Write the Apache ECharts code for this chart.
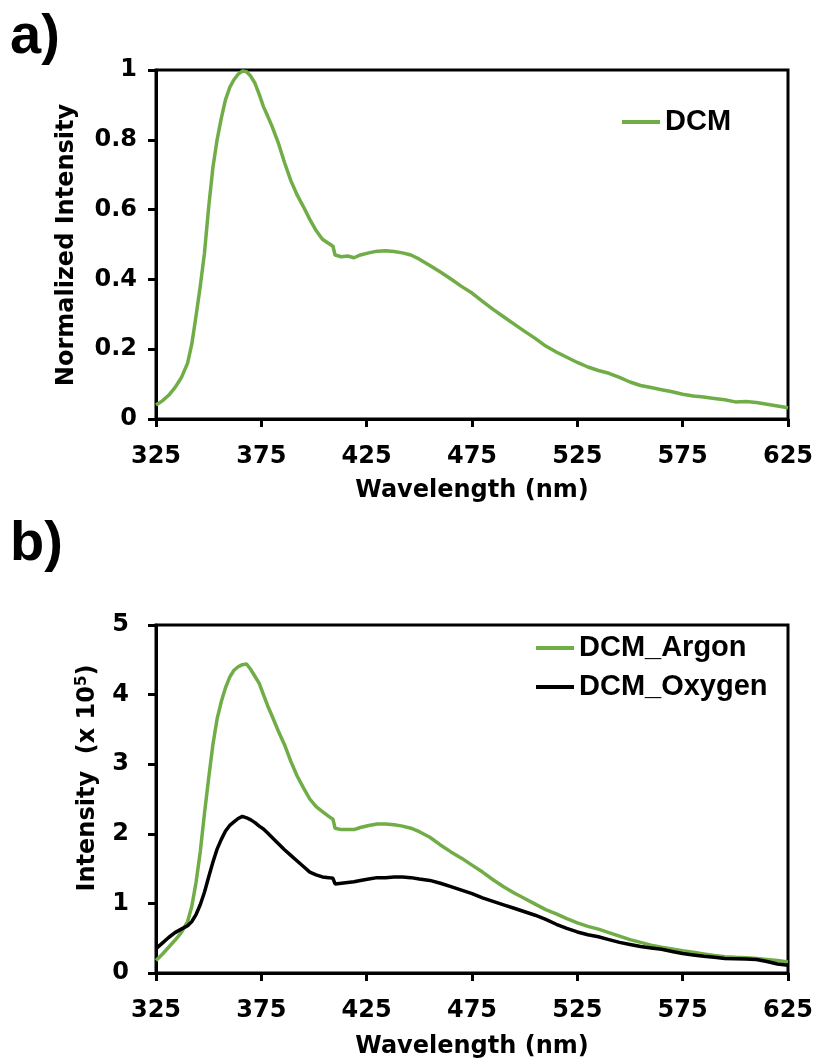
<!DOCTYPE html>
<html>
<head>
<meta charset="utf-8">
<script src="https://cdn.jsdelivr.net/npm/echarts@6/dist/echarts.min.js"></script>
<style>
  html, body { margin: 0; padding: 0; background: #fff; }
  #main { width: 817px; height: 1063px; }
</style>
</head>
<body>
<div id="main"></div>
<script>
// wavelength grid (nm), shared by both panels
var wl = [325, 328, 331, 334, 337, 340,
  342, 344, 346, 348, 350, 352, 354, 356, 358, 360, 362, 364, 366, 368, 370, 372, 374, 376, 378, 380,
  383, 386, 389, 392, 395, 398, 401, 404, 407, 409, 410, 413, 416, 419, 422,
  426, 430, 434, 438, 442, 446,
  450, 455, 460, 465, 470, 475, 480, 485, 490, 495, 500, 505, 510, 515, 520, 525, 530, 535, 540,
  545, 550, 555, 560, 565, 570, 575, 580, 585, 590, 595, 600, 605, 610, 615, 620, 625];

// panel a) normalized intensity
var dcm = [0.040, 0.052, 0.068, 0.090, 0.118, 0.160,
  0.215, 0.295, 0.380, 0.475, 0.607, 0.720, 0.800, 0.862, 0.915, 0.950, 0.972, 0.988, 0.997, 0.995, 0.982, 0.962, 0.930, 0.895, 0.868, 0.840,
  0.792, 0.735, 0.683, 0.642, 0.608, 0.572, 0.540, 0.515, 0.503, 0.495, 0.470, 0.465, 0.467, 0.462, 0.470,
  0.476, 0.481, 0.482, 0.480, 0.476, 0.470,
  0.458, 0.440, 0.421, 0.401, 0.380, 0.361, 0.337, 0.314, 0.293, 0.272, 0.251, 0.231, 0.209, 0.192, 0.177, 0.162, 0.149, 0.139, 0.131,
  0.119, 0.106, 0.096, 0.090, 0.084, 0.078, 0.071, 0.066, 0.063, 0.059, 0.055, 0.049, 0.050, 0.047, 0.042, 0.037, 0.032];

// panel b) intensity (x 10^5)
var argon = [0.18, 0.27, 0.37, 0.47, 0.58, 0.74,
  0.96, 1.30, 1.74, 2.29, 2.80, 3.28, 3.65, 3.90, 4.10, 4.25, 4.35, 4.40, 4.43, 4.44, 4.36, 4.26, 4.16, 4.00, 3.84, 3.70,
  3.48, 3.28, 3.04, 2.83, 2.66, 2.50, 2.39, 2.32, 2.25, 2.21, 2.08, 2.06, 2.06, 2.06, 2.09,
  2.12, 2.14, 2.14, 2.13, 2.11, 2.08,
  2.03, 1.95, 1.84, 1.74, 1.65, 1.55, 1.45, 1.34, 1.24, 1.15, 1.07, 0.99, 0.91, 0.85, 0.78, 0.72, 0.67, 0.63, 0.58,
  0.53, 0.48, 0.44, 0.40, 0.37, 0.345, 0.32, 0.30, 0.275, 0.25, 0.235, 0.225, 0.22, 0.21, 0.195, 0.18, 0.16];

var oxygen = [0.35, 0.43, 0.51, 0.58, 0.63, 0.68,
  0.74, 0.84, 0.98, 1.16, 1.38, 1.59, 1.78, 1.92, 2.04, 2.12, 2.17, 2.22, 2.25, 2.23, 2.20, 2.16, 2.11, 2.07, 2.01, 1.95,
  1.86, 1.77, 1.69, 1.61, 1.53, 1.45, 1.41, 1.38, 1.37, 1.36, 1.28, 1.29, 1.30, 1.31, 1.33,
  1.35, 1.37, 1.37, 1.38, 1.38, 1.37,
  1.35, 1.33, 1.29, 1.24, 1.19, 1.14, 1.08, 1.03, 0.98, 0.93, 0.88, 0.83, 0.77, 0.70, 0.64, 0.59, 0.55, 0.52, 0.48,
  0.44, 0.41, 0.38, 0.36, 0.34, 0.31, 0.28, 0.26, 0.24, 0.225, 0.21, 0.205, 0.20, 0.195, 0.165, 0.13, 0.11];

var xTicks = [325, 375, 425, 475, 525, 575, 625];

var GREEN = '#70AD47';
var tickFont = { color: '#000', fontSize: 24, fontWeight: 'bold', fontFamily: 'DejaVu Sans' };

function pairs(ys) {
  return wl.map(function (w, i) { return [w, ys[i]]; });
}

function xAxis(idx, labelMargin, nameGap) {
  return {
    type: 'value', gridIndex: idx, min: 325, max: 625,
    name: 'Wavelength (nm)', nameLocation: 'middle', nameGap: nameGap,
    nameTextStyle: tickFont,
    axisLine: { show: true, lineStyle: { color: '#000', width: 3 } },
    axisTick: { show: true, length: 8, customValues: xTicks, lineStyle: { color: '#000', width: 3 } },
    axisLabel: Object.assign({ margin: labelMargin, customValues: xTicks }, tickFont),
    splitLine: { show: false }
  };
}

function yAxis(idx, max, interval, labelMargin) {
  return {
    type: 'value', gridIndex: idx, min: 0, max: max, interval: interval,
    axisLine: { show: true, lineStyle: { color: '#000', width: 3 } },
    axisTick: { show: true, length: 8, lineStyle: { color: '#000', width: 3 } },
    axisLabel: Object.assign({ margin: labelMargin }, tickFont),
    splitLine: { show: false }
  };
}

var legendText = { color: '#000', fontSize: 29, fontWeight: 'bold', fontFamily: 'Liberation Sans', lineHeight: 30 };

var option = {
  animation: false,
  backgroundColor: '#fff',
  grid: [
    { left: 156, top: 70, width: 632, height: 349, show: true, borderColor: '#000', borderWidth: 3 },
    { left: 156, top: 625, width: 632, height: 348, show: true, borderColor: '#000', borderWidth: 3 }
  ],
  xAxis: [xAxis(0, 26, 60), xAxis(1, 26, 62)],
  yAxis: [yAxis(0, 1, 0.2, 19), yAxis(1, 5, 1, 27)],
  legend: [
    { data: ['DCM'], left: 622, top: 107, padding: 0, icon: 'rect', itemWidth: 38, itemHeight: 4, textStyle: legendText },
    { data: ['DCM_Argon', 'DCM_Oxygen'], orient: 'vertical', left: 536, top: 633, padding: 0, icon: 'rect',
      itemWidth: 38, itemHeight: 4, itemGap: 9, textStyle: legendText }
  ],
  graphic: [
    { type: 'text', left: 10, top: 10,
      style: { text: 'a)', fontSize: 56, fontWeight: 'bold', fontFamily: 'Liberation Sans', fill: '#000' } },
    { type: 'text', left: 10, top: 517,
      style: { text: 'b)', fontSize: 56, fontWeight: 'bold', fontFamily: 'Liberation Sans', fill: '#000' } },
    { type: 'text', x: 67, y: 245, rotation: Math.PI / 2,
      style: { text: 'Normalized Intensity', fontSize: 24, fontWeight: 'bold', fontFamily: 'DejaVu Sans',
        fill: '#000', align: 'center', verticalAlign: 'middle' } },
    { type: 'text', x: 88, y: 778, rotation: Math.PI / 2,
      style: { text: 'Intensity  (x 10{sup|5})', fontSize: 24, fontWeight: 'bold', fontFamily: 'DejaVu Sans',
        fill: '#000', align: 'center', verticalAlign: 'middle',
        rich: { sup: { fontSize: 15, fontWeight: 'bold', fontFamily: 'DejaVu Sans', fill: '#000', padding: [0, 0, 12, 0] } } } }
  ],
  series: [
    { name: 'DCM', type: 'line', xAxisIndex: 0, yAxisIndex: 0, data: pairs(dcm),
      symbol: 'none', showSymbol: false, lineStyle: { color: GREEN, width: 3.5 }, itemStyle: { color: GREEN } },
    { name: 'DCM_Argon', type: 'line', xAxisIndex: 1, yAxisIndex: 1, data: pairs(argon),
      symbol: 'none', showSymbol: false, lineStyle: { color: GREEN, width: 3.5 }, itemStyle: { color: GREEN } },
    { name: 'DCM_Oxygen', type: 'line', xAxisIndex: 1, yAxisIndex: 1, data: pairs(oxygen),
      symbol: 'none', showSymbol: false, lineStyle: { color: '#000', width: 3.5 }, itemStyle: { color: '#000' } }
  ]
};

var chart = echarts.init(document.getElementById('main'));
chart.setOption(option);
</script>
</body>
</html>
